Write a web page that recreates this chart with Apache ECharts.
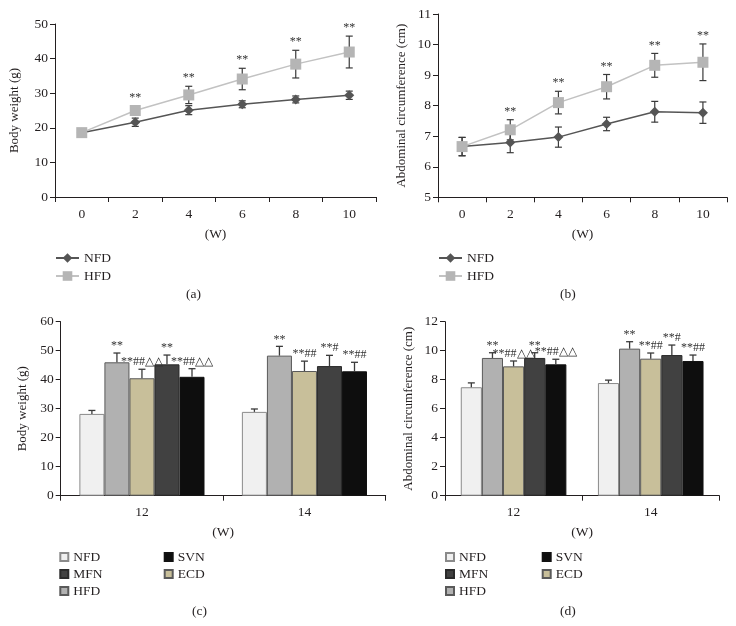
<!DOCTYPE html>
<html>
<head>
<meta charset="utf-8">
<script src="https://cdn.jsdelivr.net/npm/echarts@6/dist/echarts.min.js"></script>
<style>html,body{margin:0;padding:0;background:#fff}#c{width:736px;height:626px}</style>
</head>
<body>
<div id="c"></div>
<script>
// ---------- data ----------
const lineWeeks = ['0', '2', '4', '6', '8', '10'];
const bwNFD   = [18.6, 21.6, 25.1, 26.8, 28.2, 29.4];
const bwNFDsd = [0.8, 1.2, 1.3, 1.0, 1.0, 1.2];
const bwHFD   = [18.6, 25.0, 29.5, 34.1, 38.4, 41.9];
const bwHFDsd = [0.8, 1.4, 2.5, 3.1, 4.0, 4.6];
const acNFD   = [6.66, 6.79, 6.97, 7.40, 7.80, 7.77];
const acNFDsd = [0.30, 0.33, 0.33, 0.22, 0.34, 0.35];
const acHFD   = [6.66, 7.21, 8.10, 8.62, 9.32, 9.42];
const acHFDsd = [0.30, 0.33, 0.37, 0.40, 0.39, 0.60];
const lineMarks = ['', '**', '**', '**', '**', '**'];

const barWeeks = ['12', '14'];
const barGroups = ['NFD', 'HFD', 'ECD', 'MFN', 'SVN'];
const bwBarNFD = [28.2, 28.9], bwBarNFDsd = [1.2, 1.0];
const bwBarHFD = [46.0, 48.3], bwBarHFDsd = [3.2, 3.2];
const bwBarECD = [40.5, 43.0], bwBarECDsd = [3.1, 3.4];
const bwBarMFN = [45.3, 44.7], bwBarMFNsd = [3.2, 3.7];
const bwBarSVN = [41.0, 42.9], bwBarSVNsd = [2.8, 3.1];
const acBarNFD = [7.48, 7.77], acBarNFDsd = [0.30, 0.20];
const acBarHFD = [9.50, 10.14], acBarHFDsd = [0.36, 0.48];
const acBarECD = [8.92, 9.45], acBarECDsd = [0.37, 0.39];
const acBarMFN = [9.50, 9.70], acBarMFNsd = [0.36, 0.69];
const acBarSVN = [9.06, 9.29], acBarSVNsd = [0.35, 0.41];
const barMarks12 = ['', '**', '**##△△', '**', '**##△△'];
const barMarks14 = ['', '**', '**##', '**#', '**##'];

// ---------- style ----------
const FF = '"Liberation Serif", "Times New Roman", serif';
const TXT = '#231f20';
const barColors = { NFD: '#f0f0f0', HFD: '#b1b1b1', ECD: '#c8bf9a', MFN: '#414141', SVN: '#0e0e0e' };
const barBorders = { NFD: '#8a8a8a', HFD: '#5a5a5a', ECD: '#5a5a5a', MFN: '#2a2a2a', SVN: '#111' };
const CAT_GAP = 0.23;

function yAx(gi, min, max, interval, name, gap) {
  return {
    type: 'value', gridIndex: gi, min: min, max: max, interval: interval,
    name: name, nameLocation: 'middle', nameGap: gap,
    nameTextStyle: { fontFamily: FF, fontSize: 13, color: TXT },
    axisLine: { show: true, lineStyle: { color: TXT, width: 1 } },
    axisTick: { show: true, length: 5, lineStyle: { color: TXT } },
    axisLabel: { fontFamily: FF, fontSize: 13.5, color: TXT, margin: 7 },
    splitLine: { show: false }
  };
}
function xAx(gi, data) {
  return {
    type: 'category', gridIndex: gi, data: data, boundaryGap: true,
    name: '(W)', nameLocation: 'middle', nameGap: 30,
    nameTextStyle: { fontFamily: FF, fontSize: 13.5, color: TXT },
    axisLine: { show: true, onZero: false, lineStyle: { color: TXT, width: 1 } },
    axisTick: { show: true, length: 5, alignWithLabel: false, lineStyle: { color: TXT } },
    axisLabel: { fontFamily: FF, fontSize: 13.5, color: TXT, margin: 10 },
    splitLine: { show: false }
  };
}

function lineErr(gi, means1, sds1, means2, sds2) {
  const data = [];
  means1.forEach((m, i) => data.push([i, m, sds1[i], 0]));
  means2.forEach((m, i) => data.push([i, m, sds2[i], 1]));
  return {
    type: 'custom', xAxisIndex: gi, yAxisIndex: gi, z: 1, silent: true,
    data: data,
    renderItem: function (params, api) {
      const x = api.value(0), m = api.value(1), s = api.value(2), which = api.value(3);
      const t = api.coord([x, m + s]), b = api.coord([x, m - s]);
      const hw = 3.5;
      const st = { stroke: '#3a3a3a', lineWidth: 1.2 };
      const ch = [
        { type: 'line', shape: { x1: t[0], y1: t[1], x2: b[0], y2: b[1] }, style: st },
        { type: 'line', shape: { x1: t[0] - hw, y1: t[1], x2: t[0] + hw, y2: t[1] }, style: st },
        { type: 'line', shape: { x1: b[0] - hw, y1: b[1], x2: b[0] + hw, y2: b[1] }, style: st }
      ];
      if (which === 1 && lineMarks[x]) {
        ch.push({ type: 'text', x: t[0], y: t[1] - 2,
          style: { text: lineMarks[x], fill: '#333', font: '12px ' + FF, textAlign: 'center', textVerticalAlign: 'bottom' } });
      }
      return { type: 'group', children: ch };
    }
  };
}

function barErr(gi, means, sds) {
  const data = [];
  for (let k = 0; k < 2; k++) {
    for (let j = 0; j < 5; j++) data.push([k, j, means[j][k], sds[j][k]]);
  }
  return {
    type: 'custom', xAxisIndex: gi, yAxisIndex: gi, z: 5, silent: true,
    data: data,
    renderItem: function (params, api) {
      const k = api.value(0), j = api.value(1), m = api.value(2), s = api.value(3);
      const band = api.size([1, 0])[0];
      const bw = band * (1 - CAT_GAP) / 5;
      const c = api.coord([k, m + s]);
      const top = api.coord([k, m]);
      const cx = c[0] + (j - 2) * bw;
      const hw = 3.5;
      const st = { stroke: '#3a3a3a', lineWidth: 1.3 };
      const ch = [
        { type: 'line', shape: { x1: cx, y1: top[1], x2: cx, y2: c[1] }, style: st },
        { type: 'line', shape: { x1: cx - hw, y1: c[1], x2: cx + hw, y2: c[1] }, style: st }
      ];
      const mk = (k === 0 ? barMarks12 : barMarks14)[j];
      if (mk) {
        ch.push({ type: 'text', x: cx, y: c[1] - 1,
          style: { text: mk, fill: '#333', font: '12px ' + FF, textAlign: 'center', textVerticalAlign: 'bottom' } });
      }
      return { type: 'group', children: ch };
    }
  };
}

function bars(gi, suffix, vals) {
  return barGroups.map((g, j) => ({
    type: 'bar', name: g + suffix, xAxisIndex: gi, yAxisIndex: gi,
    data: vals[j], barCategoryGap: (CAT_GAP * 100) + '%', barGap: '0%',
    itemStyle: { color: barColors[g], borderColor: barBorders[g], borderWidth: 1 },
    z: 2
  }));
}

function lineSeries(gi, suffix, nfd, hfd) {
  return [
    { type: 'line', name: 'NFD' + suffix, xAxisIndex: gi, yAxisIndex: gi, data: nfd,
      symbol: 'diamond', symbolSize: 10, color: '#555555',
      itemStyle: { color: '#555555' }, lineStyle: { color: '#555555', width: 1.5 }, z: 3 },
    { type: 'line', name: 'HFD' + suffix, xAxisIndex: gi, yAxisIndex: gi, data: hfd,
      symbol: 'rect', symbolSize: 11, color: '#b5b5b5',
      itemStyle: { color: '#b5b5b5' }, lineStyle: { color: '#c2c2c2', width: 1.5 }, z: 4 }
  ];
}

const legendText = { fontFamily: FF, fontSize: 13.5, color: TXT };
const fmt = n => n.slice(0, -2);
function lineLegend(left, suffix) {
  return { orient: 'vertical', left: left, top: 251, padding: 0, itemWidth: 23, itemHeight: 12, itemGap: 4,
    data: ['NFD' + suffix, 'HFD' + suffix], formatter: fmt, textStyle: legendText, selectedMode: false };
}
function barLegend(left, names, suffix) {
  return { orient: 'vertical', left: left, top: 550, padding: 0, icon: 'rect', itemWidth: 8, itemHeight: 8, itemGap: 3,
    data: names.map(n => n + suffix), formatter: fmt, textStyle: legendText, selectedMode: false };
}

const bwVals = [bwBarNFD, bwBarHFD, bwBarECD, bwBarMFN, bwBarSVN];
const bwSds = [bwBarNFDsd, bwBarHFDsd, bwBarECDsd, bwBarMFNsd, bwBarSVNsd];
const acVals = [acBarNFD, acBarHFD, acBarECD, acBarMFN, acBarSVN];
const acSds = [acBarNFDsd, acBarHFDsd, acBarECDsd, acBarMFNsd, acBarSVNsd];

const option = {
  animation: false,
  backgroundColor: '#ffffff',
  grid: [
    { left: 55, top: 24, width: 321, height: 173 },
    { left: 438, top: 14, width: 289, height: 183.3 },
    { left: 60.7, top: 321.7, width: 325, height: 174 },
    { left: 445, top: 321.7, width: 274.3, height: 174 }
  ],
  xAxis: [xAx(0, lineWeeks), xAx(1, lineWeeks), xAx(2, barWeeks), xAx(3, barWeeks)],
  yAxis: [
    yAx(0, 0, 50, 10, 'Body weight (g)', 34),
    yAx(1, 5, 11, 1, 'Abdominal circumference (cm)', 30),
    yAx(2, 0, 60, 10, 'Body weight (g)', 32),
    yAx(3, 0, 12, 2, 'Abdominal circumference (cm)', 30)
  ],
  legend: [
    lineLegend(55, '_a'),
    lineLegend(438, '_b'),
    barLegend(59.3, ['NFD', 'MFN', 'HFD'], '_c'),
    barLegend(163.7, ['SVN', 'ECD'], '_c'),
    barLegend(445, ['NFD', 'MFN', 'HFD'], '_d'),
    barLegend(541.7, ['SVN', 'ECD'], '_d')
  ],
  graphic: [
    { type: 'text', left: 186, top: 287, style: { text: '(a)', font: '13.5px ' + FF, fill: TXT } },
    { type: 'text', left: 560, top: 287, style: { text: '(b)', font: '13.5px ' + FF, fill: TXT } },
    { type: 'text', left: 192, top: 604, style: { text: '(c)', font: '13.5px ' + FF, fill: TXT } },
    { type: 'text', left: 560, top: 604, style: { text: '(d)', font: '13.5px ' + FF, fill: TXT } }
  ],
  series: [].concat(
    lineSeries(0, '_a', bwNFD, bwHFD),
    [lineErr(0, bwNFD, bwNFDsd, bwHFD, bwHFDsd)],
    lineSeries(1, '_b', acNFD, acHFD),
    [lineErr(1, acNFD, acNFDsd, acHFD, acHFDsd)],
    bars(2, '_c', bwVals),
    [barErr(2, bwVals, bwSds)],
    bars(3, '_d', acVals),
    [barErr(3, acVals, acSds)]
  )
};

const chart = echarts.init(document.getElementById('c'), null, { renderer: 'canvas' });
chart.setOption(option);
</script>
</body>
</html>
